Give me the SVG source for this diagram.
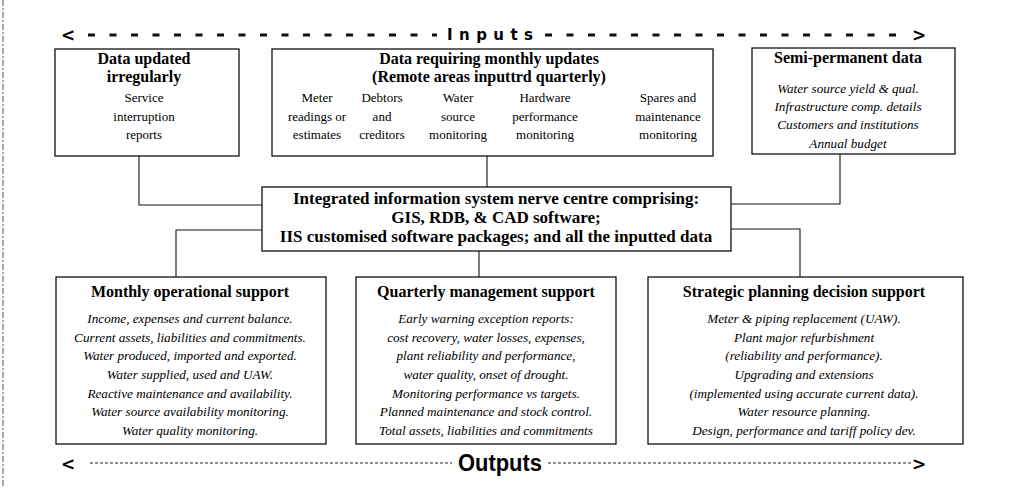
<svg xmlns="http://www.w3.org/2000/svg" width="1026" height="488" viewBox="0 0 1026 488">
<style>
.bx{fill:#fff;stroke:#111;stroke-width:1.3}
.cn{fill:none;stroke:#111;stroke-width:1.1}
.t{font-family:"Liberation Serif","Times New Roman",serif;font-size:16px;font-weight:bold;text-anchor:middle;fill:#000}
.c{font-family:"Liberation Serif","Times New Roman",serif;font-size:17px;font-weight:bold;text-anchor:middle;fill:#000}
.r{font-family:"Liberation Serif","Times New Roman",serif;font-size:13px;text-anchor:middle;fill:#000}
.i{font-family:"Liberation Serif","Times New Roman",serif;font-size:13.2px;font-style:italic;text-anchor:middle;fill:#000}
.hd{font-family:"DejaVu Sans",Verdana,sans-serif;font-size:15px;font-weight:bold;fill:#000}
.ho{font-family:"Liberation Sans",Arial,sans-serif;font-size:23px;font-weight:bold;fill:#000}
.ar{font-family:"DejaVu Sans",sans-serif;font-size:17px;font-weight:bold;fill:#000}
.dT{stroke:#111;stroke-width:3;stroke-dasharray:7 14.5}
.dB{stroke:#222;stroke-width:1;stroke-dasharray:3 2}
</style>
<rect width="1026" height="488" fill="#fff"/>
<line x1="3" y1="0" x2="3" y2="488" stroke="#555" stroke-width="1" stroke-dasharray="6 2 2 2"/>

<g id="inputs-banner">
<text class="ar" x="61" y="41">&lt;</text>
<line class="dT" x1="88" y1="35" x2="437" y2="35"/>
<text class="hd" x="447" y="40" textLength="86" lengthAdjust="spacing">Inputs</text>
<line class="dT" x1="545" y1="35" x2="905" y2="35"/>
<text class="ar" x="912" y="41">&gt;</text>
</g>

<g id="connectors">
<path class="cn" d="M139,156 V205 H262"/>
<path class="cn" d="M487,156 V187"/>
<path class="cn" d="M840,154 V204 H731"/>
<path class="cn" d="M262,230 H176 V277"/>
<path class="cn" d="M479,251 V277"/>
<path class="cn" d="M731,229 H800 V277"/>
</g>

<g id="node-irregular">
<rect class="bx" x="55" y="49" width="184" height="107"/>
<text class="t" x="144" y="64">Data updated</text>
<text class="t" x="144" y="82">irregularly</text>
<text class="r" x="144" y="102">Service</text>
<text class="r" x="144" y="121">interruption</text>
<text class="r" x="144" y="139">reports</text>
</g>

<g id="node-monthly-updates">
<rect class="bx" x="272" y="49" width="441" height="107"/>
<text class="t" x="489" y="64">Data requiring monthly updates</text>
<text class="t" x="489" y="82">(Remote areas inputtrd quarterly)</text>
<text class="r" x="317" y="102">Meter</text>
<text class="r" x="317" y="121">readings or</text>
<text class="r" x="317" y="139">estimates</text>
<text class="r" x="382" y="102">Debtors</text>
<text class="r" x="382" y="121">and</text>
<text class="r" x="382" y="139">creditors</text>
<text class="r" x="458" y="102">Water</text>
<text class="r" x="458" y="121">source</text>
<text class="r" x="458" y="139">monitoring</text>
<text class="r" x="545" y="102">Hardware</text>
<text class="r" x="545" y="121">performance</text>
<text class="r" x="545" y="139">monitoring</text>
<text class="r" x="668" y="102">Spares and</text>
<text class="r" x="668" y="121">maintenance</text>
<text class="r" x="668" y="139">monitoring</text>
</g>

<g id="node-semi-permanent">
<rect class="bx" x="752" y="48" width="203" height="106"/>
<text class="t" x="848" y="63">Semi-permanent data</text>
<text class="i" x="848" y="93">Water source yield &amp; qual.</text>
<text class="i" x="848" y="111">Infrastructure comp. details</text>
<text class="i" x="848" y="129">Customers and institutions</text>
<text class="i" x="848" y="148">Annual budget</text>
</g>

<g id="node-nerve-centre">
<rect class="bx" x="262" y="187" width="469" height="64"/>
<text class="c" x="496" y="204">Integrated information system nerve centre comprising:</text>
<text class="c" x="496" y="223">GIS, RDB, &amp; CAD software;</text>
<text class="c" x="496" y="242">IIS customised software packages; and all the inputted data</text>
</g>

<g id="node-monthly-operational">
<rect class="bx" x="56" y="277" width="270" height="167"/>
<text class="t" x="190" y="297">Monthly operational support</text>
<text class="i" x="190" y="323">Income, expenses and current balance.</text>
<text class="i" x="190" y="342">Current assets, liabilities and commitments.</text>
<text class="i" x="190" y="360">Water produced, imported and exported.</text>
<text class="i" x="190" y="379">Water supplied, used and UAW.</text>
<text class="i" x="190" y="398">Reactive maintenance and availability.</text>
<text class="i" x="190" y="416">Water source availability monitoring.</text>
<text class="i" x="190" y="435">Water quality monitoring.</text>
</g>

<g id="node-quarterly">
<rect class="bx" x="356" y="277" width="260" height="167"/>
<text class="t" x="486" y="297">Quarterly management support</text>
<text class="i" x="486" y="323">Early warning exception reports:</text>
<text class="i" x="486" y="342">cost recovery, water losses, expenses,</text>
<text class="i" x="486" y="360">plant reliability and performance,</text>
<text class="i" x="486" y="379">water quality, onset of drought.</text>
<text class="i" x="486" y="398">Monitoring performance vs targets.</text>
<text class="i" x="486" y="416">Planned maintenance and stock control.</text>
<text class="i" x="486" y="435">Total assets, liabilities and commitments</text>
</g>

<g id="node-strategic">
<rect class="bx" x="648" y="277" width="315" height="167"/>
<text class="t" x="804" y="297">Strategic planning decision support</text>
<text class="i" x="804" y="323">Meter &amp; piping replacement (UAW).</text>
<text class="i" x="804" y="342">Plant major refurbishment</text>
<text class="i" x="804" y="360">(reliability and performance).</text>
<text class="i" x="804" y="379">Upgrading and extensions</text>
<text class="i" x="804" y="398">(implemented using accurate current data).</text>
<text class="i" x="804" y="416">Water resource planning.</text>
<text class="i" x="804" y="435">Design, performance and tariff policy dev.</text>
</g>

<g id="outputs-banner">
<text class="ar" x="61" y="470">&lt;</text>
<line class="dB" x1="90" y1="463" x2="452" y2="463"/>
<text class="ho" x="458" y="471" textLength="84" lengthAdjust="spacingAndGlyphs">Outputs</text>
<line class="dB" x1="548" y1="463" x2="912" y2="463"/>
<text class="ar" x="912" y="470">&gt;</text>
</g>
</svg>
